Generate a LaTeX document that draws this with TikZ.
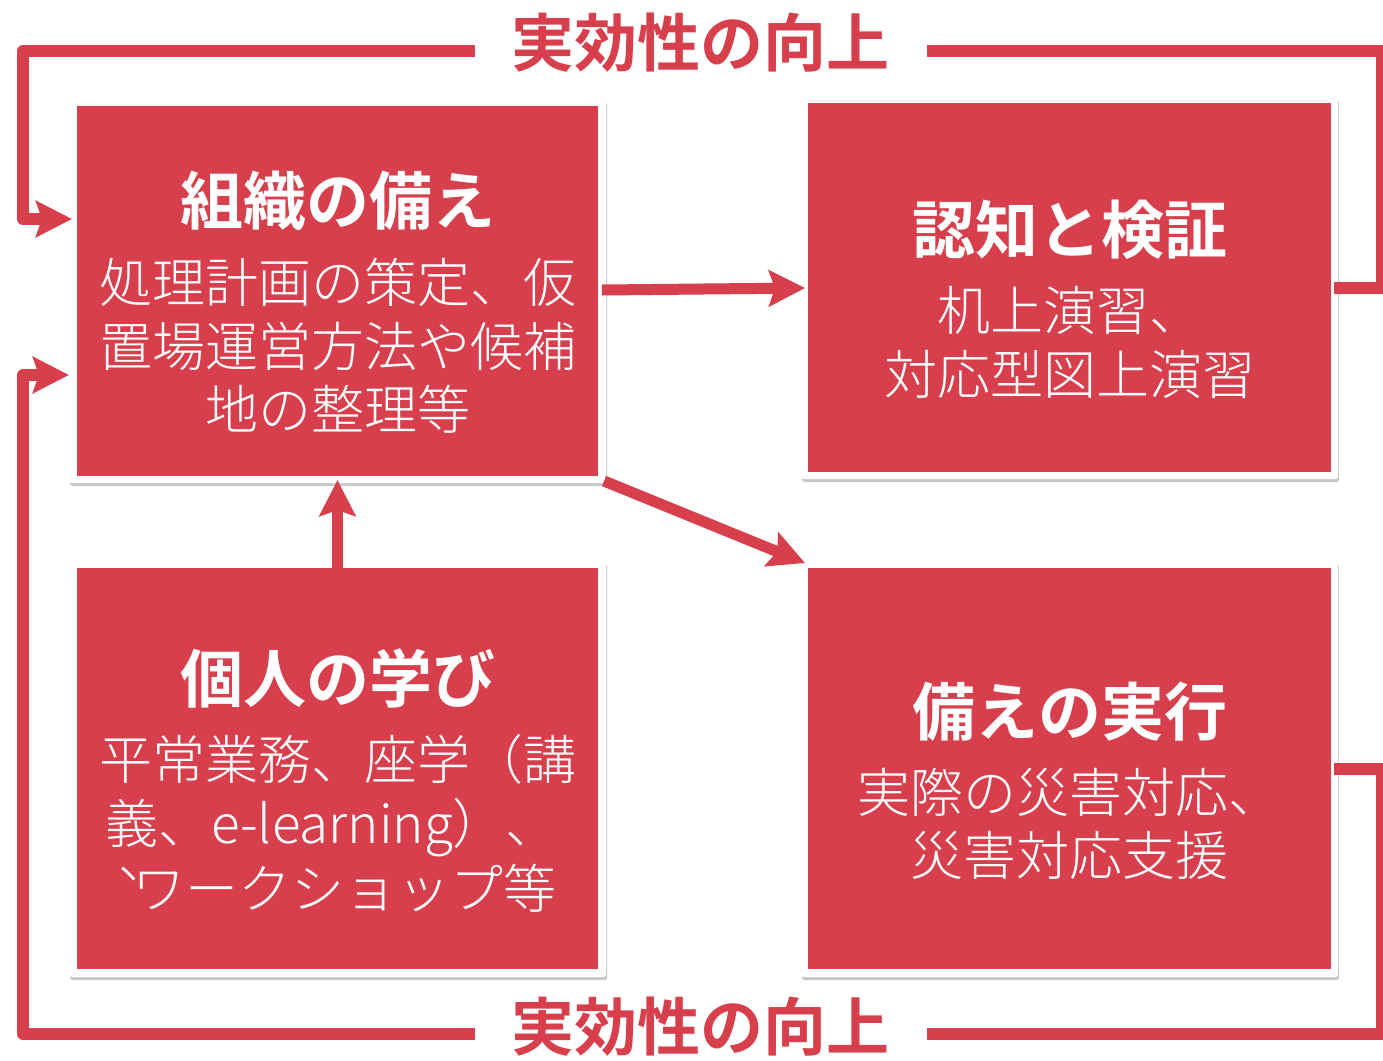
\documentclass[tikz,border=0pt]{standalone}
\usepackage{fontspec}
\usetikzlibrary{arrows.meta,shadows}
\definecolor{jred}{RGB}{214,63,75}
\IfFontExistsTF{Noto Sans CJK JP Light}{\newfontfamily\jpl{Noto Sans CJK JP Light}}{\newfontfamily\jpl{Noto Sans CJK JP}}
\IfFontExistsTF{Noto Sans CJK JP Bold}{\newfontfamily\jpb{Noto Sans CJK JP Bold}}{\newfontfamily\jpb{Noto Sans CJK JP}[FakeBold=2]}
\begin{document}
\begin{tikzpicture}[x=1pt,y=-1pt,
  frame/.style={fill=white, rounded corners=2.5pt, inner sep=0pt,
    drop shadow={shadow xshift=1pt, shadow yshift=-3pt, opacity=0.22, fill=black}},
  redbox/.style={fill=jred, inner sep=0pt},
  ttl/.style={text=white, font=\jpb\fontsize{63}{63}\selectfont, inner sep=0pt, anchor=base},
  bdy/.style={text=white, font=\jpl\fontsize{53}{53}\selectfont, inner sep=0pt, anchor=base},
  lbl/.style={text=jred, font=\jpb\fontsize{63}{63}\selectfont, inner sep=0pt, anchor=base},
  tip/.style={-{Stealth[length=36pt,width=36pt,inset=6pt]}},
  conn/.style={draw=jred, line width=11pt, tip},
  loopline/.style={draw=jred, line width=12pt, line join=round},
]
\useasboundingbox (0,0) rectangle (1383,1060);
\fill[white] (0,0) rectangle (1383,1060);

% frames
\node[frame, minimum width=537pt, minimum height=384pt] (f1) at (337.5,291) {};
\node[frame, minimum width=537pt, minimum height=382pt] (f2) at (1069.5,288) {};
\node[frame, minimum width=537pt, minimum height=416pt] (f3) at (337.5,769) {};
\node[frame, minimum width=537pt, minimum height=416pt] (f4) at (1069.5,769) {};
% red boxes
\node[redbox, minimum width=521pt, minimum height=370pt] (b1) at (337.5,291) {};
\node[redbox, minimum width=523pt, minimum height=369pt] (b2) at (1069.5,287.5) {};
\node[redbox, minimum width=521pt, minimum height=401pt] (b3) at (337.5,768.5) {};
\node[redbox, minimum width=523pt, minimum height=401pt] (b4) at (1069.5,768.5) {};

% texts box 1
\node[ttl] (t1) at (337.5,224) {組織の備え};
\node[bdy] (d1a) at (337.5,302) {処理計画の策定、仮};
\node[bdy] (d1b) at (337.5,366) {置場運営方法や候補};
\node[bdy] (d1c) at (337.5,429) {地の整理等};
% box 2
\node[ttl] (t2) at (1069.5,253) {認知と検証};
\node[bdy] (d2a) at (1069.5,330) {机上演習、};
\node[bdy] (d2b) at (1069.5,394) {対応型図上演習};
% box 3
\node[ttl] (t3) at (337.5,702) {個人の学び};
\node[bdy] (d3a) at (337.5,779) {平常業務、座学（講};
\node[bdy] (d3b) at (332,843) {義、e-learning）、};
\node[bdy] (d3c) at (337.5,908) {\raisebox{0.55em}{、}\kern-0.75em ワークショップ等};
% box 4
\node[ttl] (t4) at (1069.5,735) {備えの実行};
\node[bdy] (d4a) at (1069.5,812) {実際の災害対応、};
\node[bdy] (d4b) at (1069.5,875) {災害対応支援};

% labels
\node[lbl] (l1) at (700,66) {実効性の向上};
\node[lbl] (l2) at (700,1050) {実効性の向上};

% coordinates
\coordinate (gTL) at (475,51);
\coordinate (gTR) at (927,51);
\coordinate (gBL) at (475,1034);
\coordinate (gBR) at (927,1034);
\coordinate (cTL) at (23,219);
\coordinate (cBL) at (23,375);
\coordinate (cTR) at (1382,288);
\coordinate (cBR) at (1382,769);
\coordinate (in1) at (72,219);
\coordinate (in2) at (69,375);
\coordinate (out2) at (1334,288);
\coordinate (out4) at (1334,769);
\coordinate (s12) at (602,290);
\coordinate (e12) at (805,288);
\coordinate (s14) at (604,481);
\coordinate (e14) at (805,563);
\coordinate (e31) at (337.5,480);

% loops
\draw[loopline, tip] (gTL) -| (cTL) -- (in1);
\draw[loopline] (gTR) -| (cTR) -- (out2);
\draw[loopline, tip] (gBL) -| (cBL) -- (in2);
\draw[loopline] (gBR) -| (cBR) -- (out4);

% connectors
\draw[conn] (s12) -- (e12);
\draw[conn] (s14) -- (e14);
\draw[conn] (b3.north) -- (e31);
\end{tikzpicture}
\end{document}
